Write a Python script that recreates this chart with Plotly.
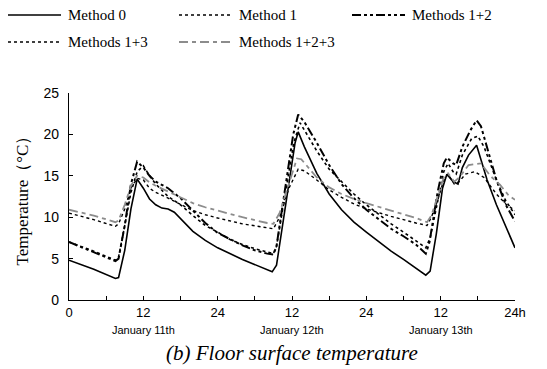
import plotly.graph_objects as go

# ---- data (hours from 0:00 Jan 11, temperature in deg C) ----
t_m0 = [0, 4, 7.5, 8, 9, 10, 11, 12, 13, 14, 15, 16, 17, 18, 20, 22, 24, 28, 32, 32.8,
        33.5, 34.5, 35.5, 36.5, 37, 38, 40, 42, 44, 46, 48, 50, 52, 54, 56, 57.6, 58.3,
        59.3, 60.3, 61, 62, 62.8, 63.5, 64.5, 65.8, 66.5, 67.5, 69, 70.5, 72]
v_m0 = [4.8, 3.7, 2.6, 2.7, 6.0, 11.0, 14.6, 13.5, 12.2, 11.5, 11.1, 11.0, 10.6, 9.8, 8.3,
        7.2, 6.3, 4.9, 3.6, 3.4, 4.2, 9.0, 14.0, 19.0, 20.3, 18.5, 15.3, 12.8, 10.9, 9.4,
        8.2, 7.0, 5.9, 4.9, 3.9, 3.0, 3.5, 8.0, 13.5, 15.2, 14.3, 14.0, 16.0, 17.5, 18.7,
        17.0, 14.5, 11.5, 8.8, 6.3]

t_m1 = [0, 4, 7.5, 8, 9, 10, 11, 12, 13, 14, 16, 18, 20, 22, 24, 26, 28, 30, 32, 33,
        33.5, 35, 36.3, 37.3, 38, 40, 42, 44, 46, 48, 50, 52, 54, 56, 57.6, 58.3, 59.5,
        60.5, 61.2, 62, 62.5, 63.5, 65, 66, 67, 69, 70.5, 72]
v_m1 = [7.0, 5.9, 4.8, 5.2, 9.0, 13.0, 15.5, 16.2, 15.0, 14.0, 12.5, 11.5, 10.2, 9.0, 8.2,
        7.3, 6.7, 6.2, 5.8, 5.6, 6.5, 13.0, 19.0, 21.4, 20.5, 18.0, 15.8, 14.3, 12.8, 11.5,
        10.3, 9.2, 8.2, 7.2, 6.3, 7.5, 12.0, 15.5, 16.5, 15.5, 15.2, 17.5, 19.5, 19.8, 18.5,
        14.5, 12.0, 10.3]

t_m12 = [0, 4, 7.5, 8, 9, 10, 11, 12, 13, 14, 16, 18, 20, 22, 24, 26, 28, 30, 32, 33,
         33.5, 35, 36.2, 37, 38, 40, 42, 44, 46, 48, 50, 52, 54, 56, 57.6, 58.2, 59.5,
         60.5, 61, 62, 62.5, 63.5, 64.8, 65.8, 66.5, 67.5, 69, 70.5, 72]
v_m12 = [7.0, 5.8, 4.7, 5.0, 9.0, 14.0, 16.7, 16.0, 15.0, 14.3, 13.5, 12.3, 10.8, 9.3, 8.1,
         7.3, 6.6, 6.0, 5.6, 5.5, 6.5, 14.0, 20.0, 22.4, 21.5, 19.0, 16.3, 14.0, 12.3, 10.9,
         9.7, 8.6, 7.7, 6.7, 5.6, 7.0, 13.0, 16.5, 17.2, 16.5, 16.3, 18.5, 20.5, 21.7, 21.0,
         18.5, 14.5, 11.5, 9.5]

t_m13 = [0, 4, 7.5, 8, 9, 10, 11, 12, 13, 14, 16, 18, 20, 22, 24, 28, 32, 33, 34, 35.5,
         37, 38, 40, 42, 44, 46, 48, 52, 56, 57.8, 58.5, 59.5, 60.5, 61.2, 62.2, 63, 64,
         65.5, 67, 69, 70.5, 72]
v_m13 = [10.5, 9.7, 8.9, 9.2, 11.0, 13.5, 14.7, 14.5, 13.5, 13.0, 12.3, 11.5, 10.8, 10.3,
         9.9, 9.2, 8.7, 8.6, 10.0, 13.5, 15.8, 15.6, 14.5, 13.3, 12.4, 11.6, 11.0, 10.1, 9.3,
         9.0, 10.0, 12.0, 14.5, 15.2, 14.0, 14.3, 15.2, 15.5, 14.8, 12.8, 11.6, 10.8]

t_m123 = [0, 4, 7.5, 8, 9, 10, 11, 12, 13, 14, 16, 18, 20, 22, 24, 28, 32, 33, 34, 35.5,
          36.8, 37.5, 40, 42, 44, 46, 48, 52, 56, 57.8, 58.5, 59.5, 60.5, 61.2, 62.2, 63,
          64.5, 66.5, 68, 69.6, 71, 72]
v_m123 = [10.9, 10.2, 9.4, 9.6, 11.5, 13.8, 15.0, 14.8, 14.2, 13.8, 13.1, 12.4, 11.7, 11.2,
          10.8, 10.0, 9.3, 9.2, 10.5, 14.0, 17.1, 17.0, 14.8, 13.6, 12.8, 12.2, 11.7, 10.8,
          9.9, 9.4, 10.2, 12.5, 14.8, 15.3, 14.3, 14.8, 16.3, 16.5, 15.0, 13.9, 12.6, 12.1]

series_names = ["Method 0", "Method 1", "Methods 1+2", "Methods 1+3", "Methods 1+2+3"]
x_tick_vals = [0, 6, 12, 18, 24, 30, 36, 42, 48, 54, 60, 66, 72]
x_tick_text = ["0", "", "12", "", "24", "", "12", "", "24", "", "12", "", "24h"]
day_pos = [12, 36, 60]
day_labels = ["January 11th", "January 12th", "January 13th"]
y_tick_vals = [0, 5, 10, 15, 20, 25]

styles = [
    dict(color="black", width=1.6, dash="solid"),
    dict(color="black", width=1.6, dash="3px,3px"),
    dict(color="black", width=2.0, dash="9px,3px,3px,3px,3px,3px"),
    dict(color="black", width=1.4, dash="3px,3px"),
    dict(color="#8c8c8c", width=1.8, dash="9px,4px,4px,4px"),
]
data = [(t_m0, v_m0), (t_m1, v_m1), (t_m12, v_m12), (t_m13, v_m13), (t_m123, v_m123)]

W, H = 547, 369
ML, MR, MT, MB = 69, 32, 93, 69
PW, PH = W - ML - MR, H - MT - MB

def px_x(px):
    return (px - ML) / PW

def px_y(py):
    return (H - MB - py) / PH

fig = go.Figure()
for name, (tx, vy), st in zip(series_names, data, styles):
    fig.add_trace(go.Scatter(x=tx, y=vy, mode="lines", name=name, line=st, showlegend=False))

serif = "Liberation Serif"
sans = "Liberation Sans"

# manual legend laid out in two rows
legend_slots = [(8, 15), (179, 15), (352, 15), (8, 42), (179, 42)]
for name, st, (lx, ly) in zip(series_names, styles, legend_slots):
    fig.add_shape(type="line", xref="paper", yref="paper",
                  x0=px_x(lx), x1=px_x(lx + 53), y0=px_y(ly), y1=px_y(ly), line=st)
    fig.add_annotation(x=px_x(lx + 58), xref="paper", y=px_y(ly), yref="paper", text=name,
                       showarrow=False, xanchor="left", yanchor="middle",
                       font=dict(family=serif, size=15, color="black"))

fig.update_layout(
    width=W, height=H,
    margin=dict(l=ML, r=MR, t=MT, b=MB),
    paper_bgcolor="white", plot_bgcolor="white",
    showlegend=False,
    xaxis=dict(range=[0, 72], tickvals=x_tick_vals, ticktext=x_tick_text,
               ticks="inside", ticklen=4, tickcolor="black", showline=True, linecolor="black",
               linewidth=1.2, showgrid=False, zeroline=False,
               tickfont=dict(family=sans, size=13, color="black")),
    yaxis=dict(range=[0, 25], tickvals=y_tick_vals, ticks="inside", ticklen=4,
               tickcolor="black", showline=True, linecolor="black", linewidth=1.2,
               showgrid=False, zeroline=False, ticklabelstandoff=6,
               tickfont=dict(family=sans, size=14, color="black"),
               title=dict(text="Temperature（°C）", font=dict(family=serif, size=17, color="black"),
                          standoff=10)),
)

for xp, lab in zip(day_pos, day_labels):
    fig.add_annotation(x=xp, xref="x", y=px_y(330), yref="paper", text=lab, showarrow=False,
                       font=dict(family=sans, size=11, color="black"), yanchor="middle")

fig.add_annotation(x=0.5, xref="paper", y=px_y(353), yref="paper",
                   text="<i>(b) Floor surface temperature</i>", showarrow=False,
                   font=dict(family=serif, size=21, color="black"), yanchor="middle")

fig.write_html("out.html")
